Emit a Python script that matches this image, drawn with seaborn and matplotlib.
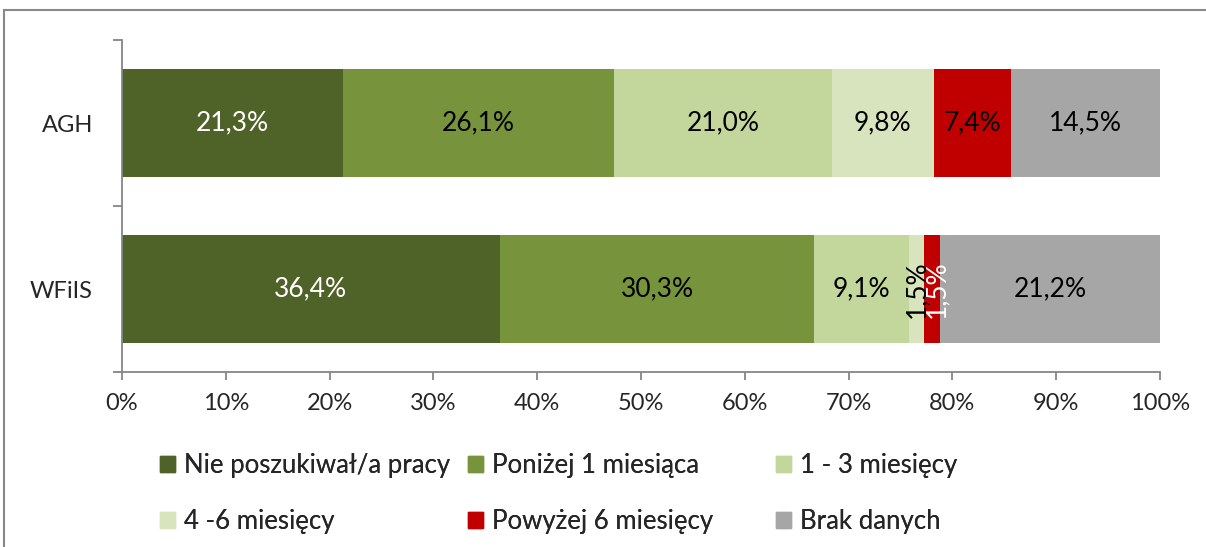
import matplotlib
matplotlib.use("Agg")
import matplotlib.pyplot as plt
import matplotlib.patches as mpatches
import numpy as np
import pandas as pd
import seaborn as sns

categories = ["AGH", "WFiIS"]
series = ["Nie poszukiwał/a pracy", "Poniżej 1 miesiąca", "1 - 3 miesięcy",
          "4 -6 miesięcy", "Powyżej 6 miesięcy", "Brak danych"]
agh = [21.3, 26.1, 21.0, 9.8, 7.4, 14.5]
wfiis = [36.4, 30.3, 9.1, 1.5, 1.5, 21.2]
colors = ["#4F6228", "#77933C", "#C3D69B", "#D7E4BD", "#C00000", "#A6A6A6"]
# label colour per row / series
label_colors = [["white", "black", "black", "black", "black", "black"],
                ["white", "black", "black", "black", "white", "black"]]

sns.set_theme(style="white")
plt.rcParams["font.family"] = ["Lato", "DejaVu Sans"]

values = np.array([agh, wfiis])
cums = values.cumsum(axis=1)

fig = plt.figure(figsize=(12.06, 5.47), dpi=100)
ax = fig.add_axes([122 / 1206, 1 - 372 / 547, 1038 / 1206, 332 / 547])

# stacked bars: draw cumulative totals from the last series back to the first
for i in range(len(series) - 1, -1, -1):
    df = pd.DataFrame({"cat": categories, "val": cums[:, i]})
    sns.barplot(data=df, x="val", y="cat", color=colors[i], saturation=1,
                width=0.645, ax=ax, orient="h", linewidth=0)

for r in range(len(categories)):
    for i in range(len(series)):
        v = values[r, i]
        xc = cums[r, i] - v / 2
        label = f"{v:.1f}%".replace(".", ",")
        col = label_colors[r][i]
        if v < 3:
            # narrow segments: vertical labels, nudged apart like the original
            xc += 0.05 if i == 3 else 0.45
            ax.text(xc, r, label, ha="center", va="center", rotation=90,
                    fontsize=19, color=col)
        else:
            ax.text(xc, r, label, ha="center", va="center", fontsize=19, color=col)

ax.set_xlim(0, 100)
ax.set_ylim(1.5, -0.5)
ax.set_xticks(np.arange(0, 101, 10))
ax.set_xticklabels([f"{t}%" for t in range(0, 101, 10)])
ax.set_yticks([0, 1])
ax.set_yticklabels(categories)
ax.set_yticks([-0.5, 0.5, 1.5], minor=True)
ax.set_xlabel("")
ax.set_ylabel("")

gray = "#868686"
for s in ["top", "right"]:
    ax.spines[s].set_visible(False)
for s in ["left", "bottom"]:
    ax.spines[s].set_color(gray)
    ax.spines[s].set_linewidth(1.3)
ax.tick_params(axis="x", which="major", direction="out", length=6, width=1.3,
               color=gray, labelsize=17, pad=9, bottom=True)
ax.tick_params(axis="y", which="major", length=0, labelsize=17, pad=21, left=True)
ax.tick_params(axis="y", which="minor", direction="out", length=6.5, width=1.3,
               color=gray, left=True)

# legend: three equal-width columns, filled row by row
handles = [mpatches.Patch(color=c, label=s) for c, s in zip(colors, series)]
col_x = [160, 468, 776]
for k, x0 in enumerate(col_x):
    leg = fig.legend(handles=[handles[k], handles[k + 3]], loc="upper left",
                     bbox_to_anchor=(x0 / 1206, 1 - 453 / 547), ncol=1,
                     frameon=False, fontsize=18.5, handlelength=0.6,
                     handleheight=0.6, handletextpad=0.35, labelspacing=1.2,
                     borderpad=0, borderaxespad=0)
    fig.add_artist(leg)

fig.patches.append(mpatches.Rectangle((4 / 1206, -0.1), 1.2, 1.1 - 10 / 547,
                                      transform=fig.transFigure, fill=False,
                                      edgecolor="#888888", linewidth=1.5))

fig.savefig("out.png", dpi=100)
